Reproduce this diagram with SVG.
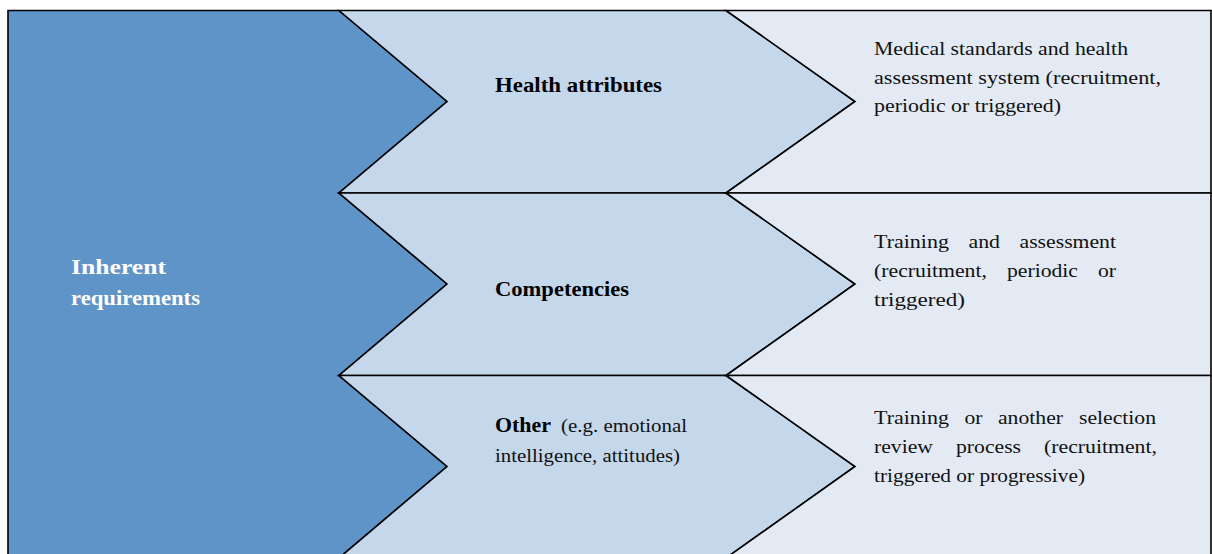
<svg xmlns="http://www.w3.org/2000/svg" width="1212" height="554" viewBox="0 0 1212 554">
<style>
.sh{stroke:#000;stroke-width:1.6;stroke-linejoin:miter}
.blue{fill:#5f94c8}
.mid{fill:#c5d7eb}
.lt{fill:#e3eaf4}
.b{font-family:"Liberation Serif","Times New Roman",serif;font-weight:bold;font-size:22px}
.n{font-family:"Liberation Serif","Times New Roman",serif;font-size:19px;fill:#111}
</style>
<rect width="1212" height="554" fill="#fff"/>
<g id="inherent-requirements">
<polygon class="sh blue" points="8,10.5 339,10.5 447,101.5 339,193 447,284 339,375.5 447,466.5 339,558 8,558"/>
<text class="b" fill="#fff"><tspan x="71" y="273.5" textLength="95" lengthAdjust="spacingAndGlyphs">Inherent</tspan><tspan x="71" y="304.5" textLength="129" lengthAdjust="spacingAndGlyphs">requirements</tspan></text>
</g>
<g id="health-attributes">
<polygon class="sh mid" points="339,10.5 726,10.5 855,101.5 726,193 339,193 447,101.5"/>
<text class="b" x="495" y="92" textLength="167" lengthAdjust="spacingAndGlyphs">Health attributes</text>
</g>
<g id="competencies">
<polygon class="sh mid" points="339,193 726,193 855,284 726,375.5 339,375.5 447,284"/>
<text class="b" x="495" y="296" textLength="134" lengthAdjust="spacingAndGlyphs">Competencies</text>
</g>
<g id="other">
<polygon class="sh mid" points="339,375.5 726,375.5 855,466.5 726,558 339,558 447,466.5"/>
<text class="b" x="495" y="432" textLength="56" lengthAdjust="spacingAndGlyphs">Other</text>
<text class="n"><tspan x="561" y="432" textLength="126" lengthAdjust="spacingAndGlyphs">(e.g. emotional</tspan><tspan x="495" y="461.5" textLength="185" lengthAdjust="spacingAndGlyphs">intelligence, attitudes)</tspan></text>
</g>
<g id="medical-standards">
<polygon class="sh lt" points="726,10.5 1211,10.5 1211,193 726,193 855,101.5"/>
<text class="n"><tspan x="874" y="55" textLength="254" lengthAdjust="spacingAndGlyphs">Medical standards and health</tspan><tspan x="874" y="83.5" textLength="287" lengthAdjust="spacingAndGlyphs">assessment system (recruitment,</tspan><tspan x="874" y="112" textLength="187" lengthAdjust="spacingAndGlyphs">periodic or triggered)</tspan></text>
</g>
<g id="training-assessment">
<polygon class="sh lt" points="726,193 1211,193 1211,375.5 726,375.5 855,284"/>
<text class="n"><tspan x="874" y="248" textLength="75" lengthAdjust="spacingAndGlyphs">Training</tspan><tspan x="968.5" y="248" textLength="31.5" lengthAdjust="spacingAndGlyphs">and</tspan><tspan x="1019.5" y="248" textLength="96.5" lengthAdjust="spacingAndGlyphs">assessment</tspan><tspan x="874" y="277" textLength="113" lengthAdjust="spacingAndGlyphs">(recruitment,</tspan><tspan x="1007" y="277" textLength="71" lengthAdjust="spacingAndGlyphs">periodic</tspan><tspan x="1098" y="277" textLength="18" lengthAdjust="spacingAndGlyphs">or</tspan><tspan x="874" y="306" textLength="91" lengthAdjust="spacingAndGlyphs">triggered)</tspan></text>
</g>
<g id="training-selection">
<polygon class="sh lt" points="726,375.5 1211,375.5 1211,558 726,558 855,466.5"/>
<text class="n"><tspan x="874" y="424" textLength="75" lengthAdjust="spacingAndGlyphs">Training</tspan><tspan x="964.5" y="424" textLength="18" lengthAdjust="spacingAndGlyphs">or</tspan><tspan x="998" y="424" textLength="65" lengthAdjust="spacingAndGlyphs">another</tspan><tspan x="1079" y="424" textLength="77" lengthAdjust="spacingAndGlyphs">selection</tspan><tspan x="874" y="453" textLength="59" lengthAdjust="spacingAndGlyphs">review</tspan><tspan x="956" y="453" textLength="65" lengthAdjust="spacingAndGlyphs">process</tspan><tspan x="1044" y="453" textLength="113" lengthAdjust="spacingAndGlyphs">(recruitment,</tspan><tspan x="874" y="482" textLength="211" lengthAdjust="spacingAndGlyphs">triggered or progressive)</tspan></text>
</g>
<g id="connectors"/>
</svg>
